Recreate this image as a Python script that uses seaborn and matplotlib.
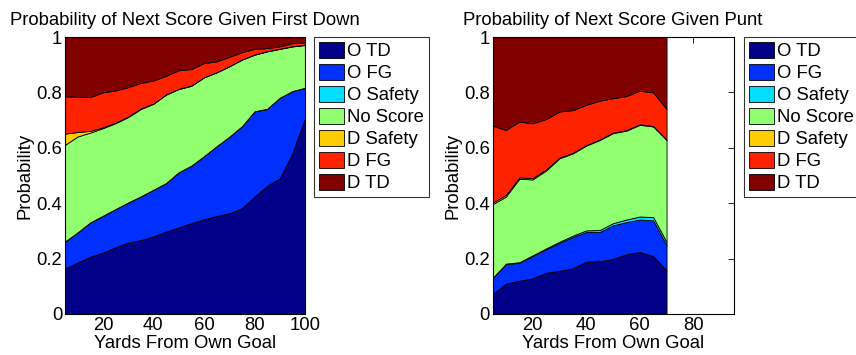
import numpy as np
import matplotlib
matplotlib.use("Agg")
import matplotlib.pyplot as plt
import seaborn as sns

# --- data (per-outcome probabilities) ---
labels = ['O TD', 'O FG', 'O Safety', 'No Score', 'D Safety', 'D FG', 'D TD']
colors = ['#000088', '#0030FF', '#00DDFF', '#90FF70', '#FFCC00', '#FF2200', '#800000']

# first down, yards 5..100
fd_yards = [5, 10, 15, 20, 25, 30, 35, 40, 45, 50, 55, 60, 65, 70, 75, 80, 85, 90, 95, 100]
fd_otd = [0.165, 0.186, 0.207, 0.222, 0.241, 0.258, 0.267, 0.280, 0.298, 0.313,
          0.328, 0.342, 0.354, 0.364, 0.382, 0.424, 0.463, 0.490, 0.581, 0.707]
fd_ofg = [0.096, 0.108, 0.123, 0.132, 0.137, 0.144, 0.157, 0.168, 0.174, 0.198,
          0.207, 0.227, 0.251, 0.275, 0.295, 0.307, 0.277, 0.290, 0.223, 0.109]
fd_osaf = [0.001] * 20
fd_none = [0.349, 0.346, 0.324, 0.316, 0.310, 0.308, 0.315, 0.310, 0.319, 0.300,
           0.288, 0.284, 0.266, 0.254, 0.240, 0.204, 0.207, 0.176, 0.161, 0.154]
fd_dsaf = [0.040, 0.016, 0.006, 0.003, 0.002, 0.002, 0.002, 0.001, 0.001, 0.001,
           0.001, 0.001, 0.001, 0.001, 0.001, 0.001, 0.001, 0.001, 0.001, 0.001]
fd_dfg = [0.135, 0.127, 0.122, 0.126, 0.116, 0.106, 0.092, 0.083, 0.067, 0.067,
          0.059, 0.051, 0.039, 0.033, 0.026, 0.020, 0.011, 0.008, 0.011, 0.009]
fd_dtd = [0.214, 0.216, 0.217, 0.200, 0.193, 0.181, 0.166, 0.157, 0.140, 0.120,
          0.116, 0.094, 0.088, 0.072, 0.055, 0.043, 0.040, 0.034, 0.022, 0.019]

# punt, yards 5..70
pu_yards = [5, 10, 15, 20, 25, 30, 35, 40, 45, 50, 55, 60, 65, 70]
pu_otd = [0.072, 0.110, 0.120, 0.129, 0.149, 0.156, 0.165, 0.189, 0.191, 0.199, 0.216, 0.224, 0.209, 0.158]
pu_ofg = [0.056, 0.070, 0.065, 0.080, 0.085, 0.101, 0.113, 0.107, 0.105, 0.121, 0.116, 0.117, 0.129, 0.090]
pu_osaf = [0.002, 0.002, 0.002, 0.003, 0.003, 0.004, 0.005, 0.006, 0.007, 0.008, 0.009, 0.011, 0.012, 0.012]
pu_none = [0.266, 0.242, 0.301, 0.274, 0.281, 0.301, 0.297, 0.306, 0.325, 0.325, 0.321, 0.331, 0.327, 0.368]
pu_dsaf = [0.006, 0.006, 0.005, 0.005, 0.004, 0.003, 0.002, 0.002, 0.002, 0.002, 0.002, 0.002, 0.002, 0.002]
pu_dfg = [0.278, 0.234, 0.202, 0.197, 0.182, 0.166, 0.154, 0.145, 0.140, 0.124, 0.123, 0.121, 0.121, 0.110]
pu_dtd = [0.320, 0.336, 0.305, 0.312, 0.296, 0.269, 0.264, 0.245, 0.230, 0.221, 0.213, 0.194, 0.200, 0.260]

y_ticks = [0, 0.2, 0.4, 0.6, 0.8, 1]
y_ticklabels = ['0', '0.2', '0.4', '0.6', '0.8', '1']

# --- style ---
sns.set_theme(style='white')
plt.rcParams['font.family'] = ['Liberation Sans', 'DejaVu Sans']
plt.rcParams['text.color'] = 'black'
plt.rcParams['axes.labelcolor'] = 'black'
plt.rcParams['xtick.color'] = 'black'
plt.rcParams['ytick.color'] = 'black'
fs = 13.3
palette = sns.color_palette(colors)

W, H = 856, 355
fig = plt.figure(figsize=(W / 100, H / 100), dpi=100)


def draw(ax_rect, leg_xy, x, series, xlim, xticks, title):
    ax = fig.add_axes(ax_rect)
    ax.stackplot(x, *series, colors=palette, labels=labels,
                 edgecolor='black', linewidth=0.6)
    ax.set_xlim(*xlim)
    ax.set_ylim(0, 1)
    ax.set_xticks(xticks)
    ax.set_xticklabels([str(t) for t in xticks])
    ax.set_yticks(y_ticks)
    ax.set_yticklabels(y_ticklabels)
    ax.tick_params(direction='in', length=4, width=0.6, top=True, right=True,
                   labelsize=fs, pad=2, colors='black')
    for sp in ax.spines.values():
        sp.set_color('black')
        sp.set_linewidth(0.8)
    ax.set_title(title, fontsize=fs, pad=9, color='black')
    ax.set_xlabel('Yards From Own Goal', fontsize=fs, labelpad=1)
    ax.set_ylabel('Probability', fontsize=fs, labelpad=2)
    leg = ax.legend(loc='upper left', bbox_to_anchor=leg_xy, bbox_transform=fig.transFigure,
                    fontsize=fs, frameon=True, fancybox=False, borderaxespad=0,
                    handlelength=1.4, handleheight=0.95, handletextpad=0.15,
                    labelspacing=0.2, borderpad=0.25)
    leg.get_frame().set_edgecolor('black')
    leg.get_frame().set_linewidth(0.8)
    for t in leg.get_texts():
        t.set_color('black')
    return ax


draw([65 / W, 1 - 314 / H, 240 / W, 277 / H], (314 / W, 1 - 37 / H), fd_yards,
     [fd_otd, fd_ofg, fd_osaf, fd_none, fd_dsaf, fd_dfg, fd_dtd],
     (5, 100), [20, 40, 60, 80, 100], 'Probability of Next Score Given First Down')

draw([492.5 / W, 1 - 314 / H, 241 / W, 277 / H], (744 / W, 1 - 37 / H), pu_yards,
     [pu_otd, pu_ofg, pu_osaf, pu_none, pu_dsaf, pu_dfg, pu_dtd],
     (5, 95), [20, 40, 60, 80], 'Probability of Next Score Given Punt')

fig.savefig('out.png', dpi=100)
